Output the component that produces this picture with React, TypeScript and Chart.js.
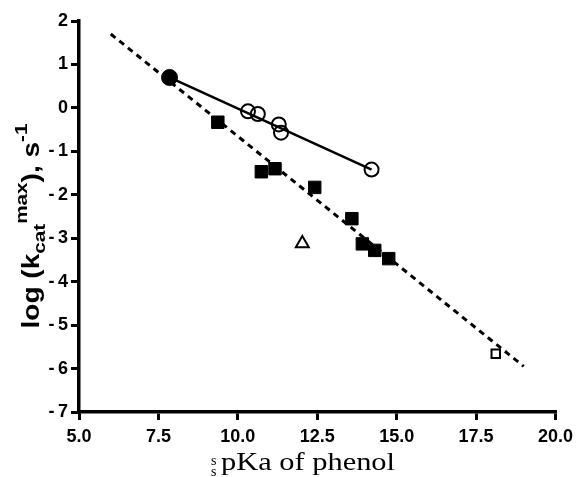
import React, { useEffect, useRef } from 'react';
import { Chart, registerables } from 'chart.js';

Chart.register(...registerables);

// ---- data ----
const xMin = 5.0;
const xMax = 20.0;
const xStep = 2.5;
const yMin = -7;
const yMax = 2;
const yStep = 1;

const dashedFitX = [6.0, 19.0];
const dashedFitY = [1.7, -5.95];

const solidFitX = [7.85, 14.21];
const solidFitY = [0.7, -1.42];

const filledSquareX = [9.37, 10.74, 11.17, 12.42, 13.59, 13.92, 14.31, 14.75];
const filledSquareY = [-0.33, -1.47, -1.4, -1.83, -2.55, -3.13, -3.28, -3.47];

const openCircleX = [10.32, 10.63, 11.29, 11.36, 14.21];
const openCircleY = [-0.08, -0.14, -0.38, -0.57, -1.42];

const filledCircleX = [7.85];
const filledCircleY = [0.7];

const openTriangleX = [12.03];
const openTriangleY = [-3.12];

const openSquareX = [18.12];
const openSquareY = [-5.66];

const xTitleMain = 'pKa of phenol';
const xTitleSup = 's';
const xTitleSub = 's';

const pts = (xs: number[], ys: number[]) => xs.map((x, i) => ({ x, y: ys[i] }));

const SANS = '"Liberation Sans", Arial, Helvetica, sans-serif';
const SERIF = '"Liberation Serif", "Times New Roman", serif';

type Piece = { text: string; size: number; shift: number };
const yTitlePieces: Piece[] = [
  { text: 'log (k', size: 23, shift: 0 },
  { text: 'cat', size: 17, shift: 6 },
  { text: 'max', size: 17, shift: -12 },
  { text: '), s', size: 23, shift: 0 },
  { text: '-1', size: 17, shift: -12 },
];

const titlePlugin = {
  id: 'customTitles',
  afterDraw(chart: any) {
    const ctx: CanvasRenderingContext2D = chart.ctx;
    ctx.save();
    ctx.fillStyle = '#000';
    ctx.textBaseline = 'alphabetic';
    ctx.textAlign = 'left';

    // x axis title
    ctx.font = `25px ${SERIF}`;
    const mainW = ctx.measureText(xTitleMain).width;
    const stretch = 174 / mainW;
    ctx.save();
    ctx.translate(221, 470);
    ctx.scale(stretch, 1);
    ctx.fillText(xTitleMain, 0, 0);
    ctx.restore();
    ctx.font = `14px ${SERIF}`;
    ctx.fillText(xTitleSup, 211, 465);
    ctx.fillText(xTitleSub, 211, 476);

    // y axis title (rotated)
    let total = 0;
    for (const p of yTitlePieces) {
      ctx.font = `bold ${p.size}px ${SANS}`;
      total += ctx.measureText(p.text).width;
    }
    const targetLen = 205;
    const k = targetLen / total;
    const centerY = 226;
    ctx.save();
    ctx.translate(39, centerY + targetLen / 2);
    ctx.rotate(-Math.PI / 2);
    ctx.scale(k, 1);
    let cx = 0;
    for (const p of yTitlePieces) {
      ctx.font = `bold ${p.size}px ${SANS}`;
      ctx.fillText(p.text, cx, p.shift);
      cx += ctx.measureText(p.text).width;
    }
    ctx.restore();
    ctx.restore();
  },
};

export default function App() {
  const ref = useRef<HTMLCanvasElement | null>(null);

  useEffect(() => {
    if (!ref.current) return;
    const tickFont = { family: SANS, size: 18, weight: 'bold' as const };
    const chart = new Chart(ref.current, {
      type: 'scatter',
      data: {
        datasets: [
          {
            type: 'line',
            label: 'fit dashed',
            data: pts(dashedFitX, dashedFitY),
            borderColor: '#000',
            borderWidth: 3,
            borderDash: [6, 5],
            pointRadius: 0,
            fill: false,
            order: 10,
          } as any,
          {
            type: 'line',
            label: 'fit solid',
            data: pts(solidFitX, solidFitY),
            borderColor: '#000',
            borderWidth: 2.5,
            pointRadius: 0,
            fill: false,
            order: 9,
          } as any,
          {
            label: 'filled squares',
            data: pts(filledSquareX, filledSquareY),
            pointStyle: 'rect',
            pointRadius: 8.8,
            backgroundColor: '#000',
            borderColor: '#000',
            borderWidth: 1,
            order: 3,
          },
          {
            label: 'open circles',
            data: pts(openCircleX, openCircleY),
            pointStyle: 'circle',
            pointRadius: 7,
            backgroundColor: 'rgba(0,0,0,0)',
            borderColor: '#000',
            borderWidth: 2,
            order: 2,
          },
          {
            label: 'filled circle',
            data: pts(filledCircleX, filledCircleY),
            pointStyle: 'circle',
            pointRadius: 8,
            backgroundColor: '#000',
            borderColor: '#000',
            borderWidth: 1,
            order: 1,
          },
          {
            label: 'open triangle',
            data: pts(openTriangleX, openTriangleY),
            pointStyle: 'triangle',
            pointRadius: 7.5,
            backgroundColor: '#fff',
            borderColor: '#000',
            borderWidth: 2,
            order: 1,
          },
          {
            label: 'open square',
            data: pts(openSquareX, openSquareY),
            pointStyle: 'rect',
            pointRadius: 6,
            backgroundColor: '#fff',
            borderColor: '#000',
            borderWidth: 2,
            order: 1,
          },
        ],
      },
      options: {
        responsive: false,
        animation: false,
        events: [],
        layout: { padding: { top: 21, right: 18, left: 0, bottom: 0 } },
        plugins: {
          legend: { display: false },
          tooltip: { enabled: false },
          title: { display: false },
        },
        scales: {
          x: {
            type: 'linear',
            position: 'bottom',
            min: xMin,
            max: xMax,
            ticks: {
              stepSize: xStep,
              color: '#000',
              font: tickFont,
              padding: 6,
              maxRotation: 0,
              callback: (v: any) => Number(v).toFixed(1),
            },
            grid: { drawOnChartArea: false, drawTicks: true, tickLength: 8, color: '#000', lineWidth: 3 },
            border: { display: true, color: '#000', width: 3.5 },
            afterFit: (s: any) => { s.height = 65; },
          },
          y: {
            type: 'linear',
            min: yMin,
            max: yMax,
            ticks: {
              stepSize: yStep,
              color: '#000',
              font: tickFont,
              padding: 3,
              callback: (v: any) => (Number(v) < 0 ? '-\u2009' + String(Math.abs(Number(v))) : String(v)),
            },
            grid: { drawOnChartArea: false, drawTicks: true, tickLength: 8, color: '#000', lineWidth: 3 },
            border: { display: true, color: '#000', width: 3.5 },
            afterFit: (s: any) => { s.width = 79; },
          },
        },
      },
      plugins: [titlePlugin],
    });
    return () => chart.destroy();
  }, []);

  return (
    <div style={{ position: 'fixed', left: 0, top: 0, width: 579, height: 477, background: '#fff' }}>
      <canvas ref={ref} width={579} height={477} style={{ display: 'block', width: 579, height: 477 }} />
    </div>
  );
}
